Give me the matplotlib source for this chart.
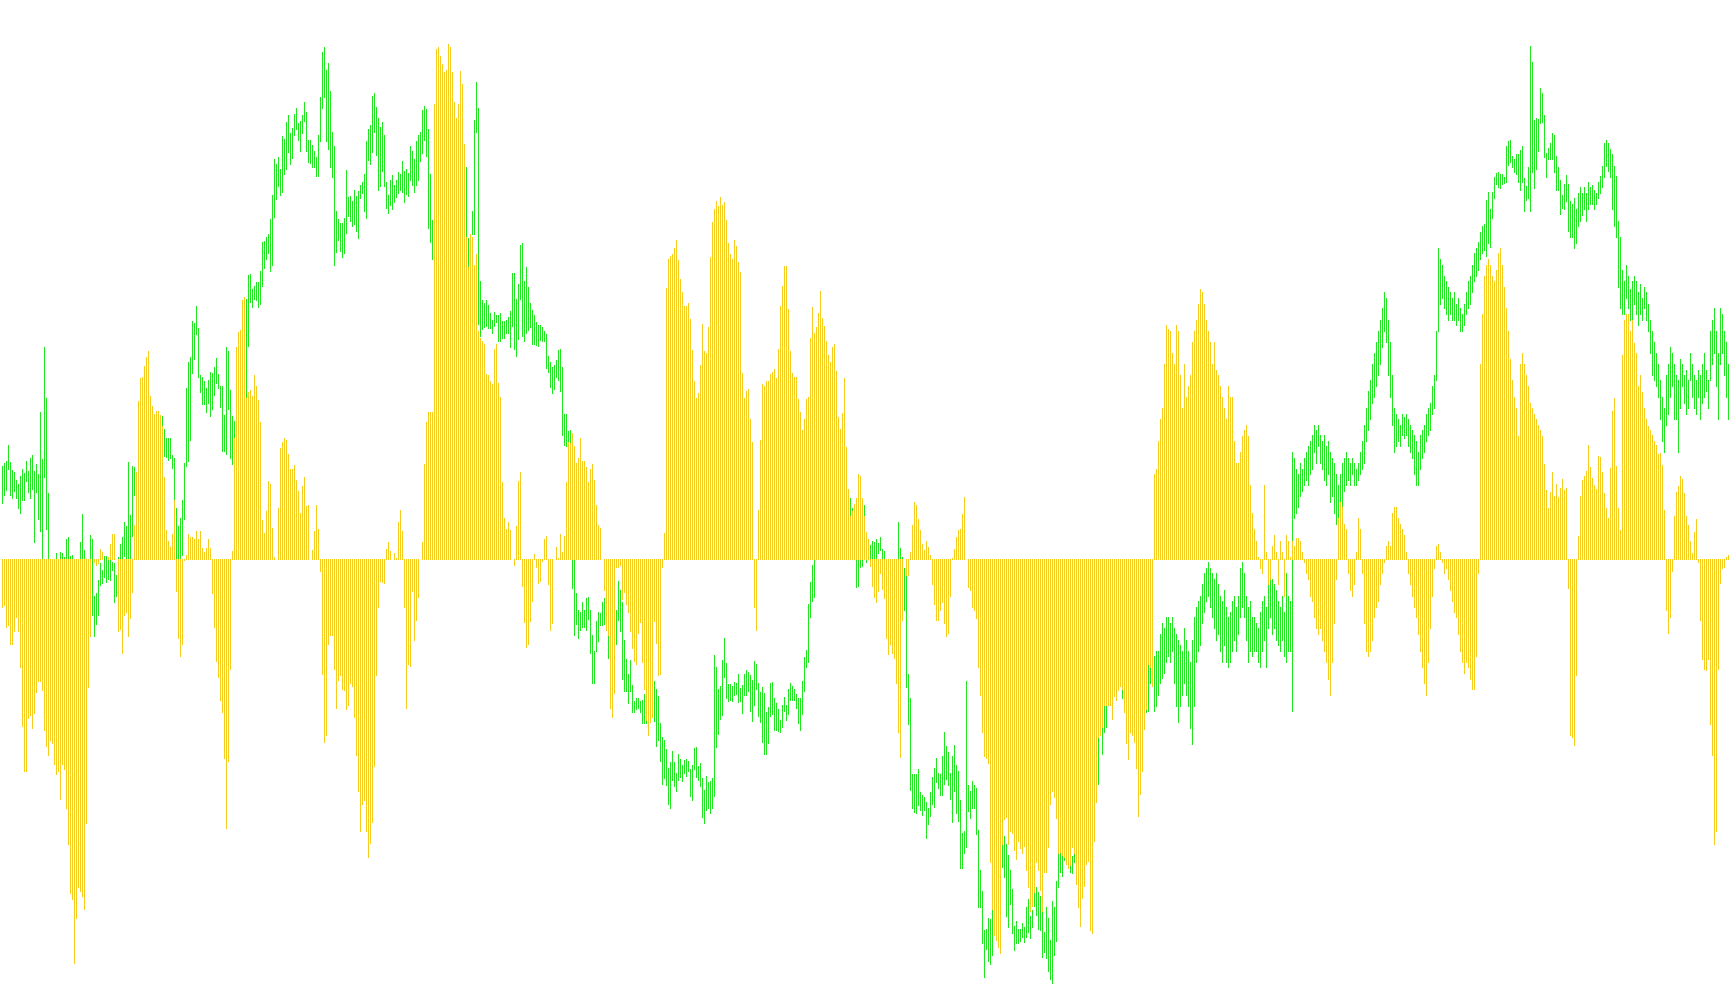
import numpy as np
import matplotlib.pyplot as plt

# histogram values, one per bar
hist = [
    -77, -75, -110, -107, -138, -138, -117, -93, -117, -175, -270, -342, -342, -257, -252, -273, -249, -215, -197, -197,
    -212, -277, -302, -317, -292, -297, -331, -348, -343, -388, -331, -340, -403, -461, -540, -550, -652, -580, -530, -537,
    -545, -565, -426, -207, -125, 0, -5, -10, -7, 17, 12, 0, 0, 3, 25, 40, 40, 0, -117, -113,
    -152, -90, -85, -125, -95, -53, 55, 140, 255, 292, 295, 312,
    327, 336, 263, 247, 235, 239, 239, 233, 215, 132, 47, 29, 19, 40, 95, -51, -128, -157, -138, -2,
    7, 40, 35, 35, 33, 45, 33, 45, 18, 12, 18, 32, 18, -55, -110, -165, -190, -227, -247, -322,
    -435, -327, -178, 13, 195, 343, 367, 370, 418, 423, 260, 270, 273, 263, 297, 280, 257, 222, 63, 42,
    77, 126, 122, 50, 3, 0, 83, 179, 190, 195, 193, 170,
    145, 145, 152, 128, 110, 75, 118, 132, 85, 87, 0, 15, 45, 87, 48, -20, -185, -295, -285, -138,
    -123, -123, -177, -240, -195, -188, -210, -212, -243, -235, -200, -205, -255, -317, -375, -440, -395, -390, -440, -482,
    -458, -425, -335, -188, -78, -36, -37, -38, 16, 27, 13, 0, 10, 2, 60, 79, 45, -77, -240, -170,
    -172, -52, -130, -98, -62, 0, 28, 153, 222, 237, 237, 237,
    735, 825, 827, 813, 800, 787, 790, 832, 828, 787, 738, 713, 735, 789, 768, 670, 520, 472, 525, 520,
    475, 493, 368, 358, 352, 347, 299, 297, 288, 283, 339, 347, 285, 262, 124, 66, 49, 60, 47, 0,
    -10, 53, 126, 141, -43, -102, -142, -138, -100, -67, 8, -12, -38, -35, -3, 32, 37, -40, -115, -103,
    0, 19, 2, 40, 12, 37, 124, 190, 187, 204, 183, 155,
    163, 195, 158, 158, 149, 125, 145, 153, 128, 88, 55, 50, 0, -50, -115, -123, -240, -255, -217, -13,
    -13, -10, -65, -53, -72, -85, -117, -143, -165, -170, -120, -102, -167, -210, -260, -285, -263, -255, -100, -135,
    -187, -185, -13, 42, 438, 485, 490, 493, 503, 515, 483, 453, 431, 409, 409, 414, 388, 338, 288, 260,
    268, 314, 380, 336, 333, 375, 488, 545, 565, 579, 570, 585,
    572, 577, 548, 511, 493, 485, 516, 506, 480, 464, 301, 260, 271, 275, 226, 189, -78, -115, 79, 192,
    283, 280, 288, 288, 299, 302, 307, 292, 339, 409, 442, 474, 474, 404, 336, 301, 294, 294, 259, 237,
    208, 227, 259, 262, 357, 407, 365, 375, 397, 433, 389, 377, 352, 330, 318, 343, 347, 304, 229, 210,
    236, 292, 181, 113, 70, 77, 89, 98, 137, 135, 98, 70,
    43, 33, -11, -43, -62, -70, -52, -23, -48, -63, -128, -153, -138, -151, -160, -200, -280, -320, -98, 0,
    -25, -25, 12, 55, 92, 88, 65, 47, 25, 15, 29, 20, 7, -40, -73, -98, -98, -82, -70, -103,
    -125, -120, -60, 2, 17, 35, 47, 49, 73, 100, 0, -45, -50, -78, -83, -95, -175, -220, -280, -318,
    -322, -330, -490, -565, -607, -615, -627, -637, -460, -420, -417, -460,
    -440, -442, -470, -485, -455, -467, -475, -463, -502, -530, -568, -560, -538, -490, -503, -535, -568, -505, -505, -465,
    -395, -375, -385, -418, -475, -473, -478, -482, -492, -500, -495, -465, -475, -525, -562, -593, -547, -528, -493, -488,
    -600, -605, -455, -393, -288, -285, -272, -235, -235, -235, -235, -258, -222, -228, -212, -205, -210, -247, -298, -323,
    -280, -285, -295, -338, -415, -380, -342, -275, -243, -170, -175, -205,
    137, 146, 191, 226, 244, 315, 378, 372, 369, 333, 315, 378, 369, 298, 244, 315, 262, 280, 298, 351,
    369, 387, 413, 437, 431, 413, 387, 369, 351, 315, 351, 306, 298, 280, 262, 244, 226, 280, 262, 262,
    191, 155, 155, 173, 199, 208, 217, 199, 119, 75, 48, 30, 4, -14, -23, 119, 12, -41, -32, 21,
    39, 12, -41, 30, 12, -59, 39, 30, 4, 30, 21, 34, 34, 30, 12, -5, -23, -32, -59, -68,
    -94, -112, -121, -112, -130, -148, -166, -193, -219, -166, -103, -32, 66, 93, 84, 57, 48, -23, -50, -59,
    -41, 12, 66, 48, -23, -103, -148, -157, -148, -130, -94, -77, -68, -41, -23, -5, 21, 30, 21, 75,
    84, 84, 66, 57, 48, 39, 12, -23, -41, -59, -77, -94, -121, -148, -175, -201, -219, -166, -112, -59,
    -14, 21, 25, 12, -5, -23, -14, -32, -50, -68, -86, -94, -121, -148, -166, -184, -166, -175, -193, -210,
    -210, -157, -23, 315, 396, 458, 476, 485, 476, 458, 449, 467, 494, 503, 476, 440, 405, 369, 324, 289,
    262, 244, 199, 315, 333, 315, 298, 280, 253, 244, 235, 226, 217, 208, 199, 154, 112, 82, 108, 141,
    102, 122, 101, 115, 130, 112, 115, -47, -285, -288, -301, -188, 38, 102, 128, 134, 143, 185, 149, 131,
    120, 114, 167, 165, 141, 107, 83, 67, 148, 240, 260, 151, 83, 47, 330, 387, 396, 396, 369, 387,
    350, 333, 280, 298, 270, 244, 226, 215, 208, 200, 191, 185, 170, 172, 152, 80, -83, -120, -93, -20,
    70, 109, 118, 135, 130, 107, 70, 55, 30, 10, 44, 64, -4, -99, -162, -178, -180, -162, -266, -317,
    -460, -440, -178, -38, -14, -12, 3, 7, 30,
]

# price bar highs and lows, same units
price_high = [
    150, 155, 158, 184, 157, 144, 141, 128, 122, 134, 145, 139, 158, 143, 164, 168, 143, 154, 137, 238,
    161, 343, 260, 107, -5, -5, -5, 10, -5, 12, 10, 3, 32, 35, 5, 6, -5, -5, -5, 27,
    73, 14, -5, -10, 39, 32, -60, -55, -33, -7, -18, 5, 5, -2, -2, -5, -7, -25, 3, 25,
    35, 60, 53, 157, 72, 150, 149, 120, 150, 200, 220, 240,
    280, 290, 250, 240, 230, 235, 230, 225, 231, 210, 195, 195, 195, 169, 163, 83, 53, 66, 95, 155,
    277, 318, 326, 385, 381, 409, 373, 297, 295, 288, 277, 289, 302, 300, 310, 325, 299, 280, 280, 233,
    343, 337, 273, 231, 223, 330, 350, 360, 400, 410, 420, 459, 460, 437, 441, 447, 447, 465, 512, 514,
    520, 525, 550, 588, 647, 638, 650, 630, 683, 679, 706, 718,
    688, 697, 720, 729, 705, 708, 718, 739, 723, 677, 677, 669, 659, 650, 685, 747, 819, 828, 790, 802,
    757, 690, 668, 562, 550, 543, 543, 551, 629, 585, 587, 578, 596, 587, 595, 605, 609, 622, 676, 695,
    702, 748, 754, 730, 713, 698, 706, 685, 609, 588, 612, 621, 604, 613, 625, 622, 643, 627, 630, 624,
    667, 659, 647, 675, 685, 690, 725, 732, 728, 695, 622, 548,
    560, 580, 600, 620, 610, 620, 640, 650, 660, 640, 620, 600, 610, 630, 640, 630, 634, 519, 520, 562,
    710, 771, 729, 449, 419, 414, 419, 410, 398, 387, 399, 394, 395, 398, 385, 385, 386, 391, 401, 462,
    462, 420, 444, 507, 511, 450, 472, 440, 414, 402, 394, 383, 379, 378, 375, 368, 363, 328, 318, 310,
    314, 322, 338, 339, 310, 234, 234, 207, 208, 15, 20, -55,
    -83, -85, -70, -83, -63, -62, -83, -123, -148, -100, -86, -87, -70, -63, -93, -120, -150, -150, -120, -82,
    -35, -50, -70, -130, -162, -185, -163, -203, -230, -225, -225, -230, -228, -218, -243, -240, -220, -200, -197, -210,
    -222, -265, -288, -293, -307, -337, -328, -310, -328, -345, -315, -323, -332, -325, -323, -327, -340, -332, -305, -303,
    -335, -330, -353, -373, -350, -360, -358, -353, -155, -175, -210, -205,
    -163, -128, -168, -202, -202, -205, -198, -201, -186, -208, -203, -185, -180, -182, -187, -195, -165, -170, -201, -214,
    -207, -217, -247, -239, -201, -198, -225, -233, -243, -260, -235, -223, -235, -210, -200, -205, -210, -218, -225, -225,
    -197, -158, -147, -73, -37, -10, 10, 40, 50, 60, 55, 60, 70, 65, 70, 80, 75, 85, 90, 85,
    95, 100, 100, 100, 98, 82, 80, 40, 30, 30, 60, 88,
    35, 17, 22, 30, 28, 32, 26, 35, 17, 13, 0, -5, -5, -5, -5, -5, 60, 18, 3, -15,
    -27, -185, -225, -348, -348, -347, -340, -377, -382, -385, -393, -402, -377, -352, -338, -322, -345, -348, -318, -280,
    -302, -312, -345, -318, -300, -332, -342, -390, -443, -440, -197, -365, -375, -358, -365, -370, -438, -502, -537, -600,
    -597, -580, -582, -565, -540, -520, -500, -480, -460, -447, -460, -478,
    -503, -533, -593, -585, -597, -597, -588, -595, -562, -550, -577, -567, -538, -530, -538, -545, -568, -603, -563, -580,
    -615, -553, -563, -521, -460, -475, -478, -480, -450, -440, -495, -480, -475, -440, -450, -460, -430, -400, -380, -370,
    -380, -360, -330, -300, -288, -250, -272, -235, -235, -200, -190, -180, -170, -170, -160, -160, -210, -170, -160, -150,
    -140, -150, -160, -170, -180, -180, -200, -190, -200, -170, -175, -150,
    -157, -148, -148, -121, -103, -112, -94, -94, -103, -94, -112, -121, -130, -139, -148, -112, -130, -148, -166, -130,
    -94, -77, -68, -59, -41, -23, -14, -5, -14, -23, -32, -23, -41, -59, -68, -50, -77, -94, -86, -68,
    -59, -77, -59, -14, -5, -23, -59, -77, -68, -94, -94, -103, -112, -86, -68, -59, -77, -41, -23, -32,
    -41, -50, -68, -77, -59, -86, -23, -59, -68, 173, 164, 146, 137, 155, 146, 164, 173, 182, 191, 200,
    217, 208, 217, 200, 191, 200, 182, 191, 173, 164, 155, 137, 119, 137, 155, 164, 173, 164, 155, 164,
    155, 146, 155, 173, 191, 217, 244, 271, 289, 315, 333, 351, 369, 387, 405, 431, 422, 387, 351, 298,
    244, 235, 226, 217, 235, 230, 235, 226, 217, 208, 200, 191, 173, 200, 208, 217, 235, 244, 253, 280,
    298, 369, 503, 485, 476, 458, 449, 440, 431, 422, 431, 413, 422, 405, 396, 413, 431, 449, 458, 476,
    494, 503, 512, 529, 538, 542, 580, 594, 566, 594, 618, 624, 626, 623, 623, 618, 668, 675, 678, 651,
    647, 655, 655, 661, 668, 616, 603, 634, 829, 803, 710, 713, 711, 761, 753, 718, 657, 665, 673, 689,
    686, 651, 634, 613, 589, 606, 621, 606, 579, 574, 583, 565, 592, 601, 592, 601, 592, 609, 601, 604,
    597, 592, 609, 619, 636, 672, 677, 672, 663, 654, 636, 619, 547, 520, 467, 449, 476, 458, 437, 449,
    458, 449, 431, 444, 422, 440, 431, 413, 387, 369, 351, 333, 315, 289, 262, 244, 298, 315, 342, 333,
    315, 298, 289, 324, 315, 298, 306, 289, 333, 315, 298, 289, 306, 298, 315, 333, 306, 289, 369, 387,
    405, 369, 333, 405, 396, 369, 351, 315, 298,
]

price_low = [
    90, 103, 112, 145, 103, 98, 110, 98, 82, 74, 95, 95, 127, 109, 98, 114, 27, 109, 64, 45,
    -15, 133, 48, -15, -60, -50, -45, -40, -50, -40, -40, -45, -30, -25, -40, -40, -60, -60, -50, -30,
    -20, -30, -50, -60, -30, -91, -125, -105, -91, -42, -38, -29, -37, -32, -34, -18, -70, -60, -40, -30,
    -30, 5, -20, -20, -20, 37, 103, 60, 90, 130, 150, 170,
    220, 230, 200, 190, 180, 180, 180, 175, 180, 167, 165, 160, 163, 147, 97, -15, -15, -15, 7, 65,
    150, 158, 193, 300, 323, 363, 295, 270, 250, 250, 238, 252, 232, 243, 265, 285, 277, 245, 175, 175,
    170, 243, 163, 153, 195, 270, 290, 300, 330, 340, 260, 344, 415, 408, 421, 418, 407, 413, 441, 470,
    485, 495, 465, 475, 553, 582, 603, 588, 593, 623, 630, 658,
    638, 648, 685, 695, 677, 659, 688, 708, 659, 642, 640, 633, 633, 619, 619, 675, 729, 747, 675, 663,
    633, 617, 475, 497, 515, 498, 488, 495, 527, 555, 547, 538, 541, 531, 519, 583, 591, 562, 552, 645,
    638, 658, 690, 653, 597, 603, 627, 603, 567, 559, 572, 565, 577, 585, 591, 597, 593, 577, 590, 587,
    613, 605, 594, 605, 612, 643, 657, 677, 652, 535, 512, 485,
    500, 520, 540, 560, 550, 560, 580, 590, 600, 580, 560, 540, 550, 570, 580, 570, 520, 472, 480, 525,
    525, 690, 380, 360, 372, 375, 377, 374, 373, 365, 377, 383, 352, 352, 358, 358, 365, 365, 342, 377,
    340, 329, 355, 420, 360, 353, 365, 370, 375, 348, 348, 346, 344, 354, 352, 353, 309, 303, 278, 268,
    275, 295, 290, 272, 200, 185, 182, 185, 179, -47, -123, -105,
    -127, -115, -110, -110, -115, -97, -152, -201, -201, -149, -133, -107, -107, -105, -115, -160, -220, -230, -200, -138,
    -98, -117, -193, -213, -213, -233, -213, -247, -247, -242, -240, -247, -265, -265, -265, -275, -255, -250, -262, -302,
    -293, -327, -363, -353, -365, -395, -403, -357, -367, -375, -357, -352, -358, -345, -350, -342, -383, -390, -340, -352,
    -357, -367, -417, -427, -405, -403, -410, -403, -383, -303, -282, -258,
    -252, -190, -225, -230, -227, -230, -220, -218, -231, -230, -248, -220, -220, -213, -245, -261, -235, -210, -253, -263,
    -295, -315, -315, -297, -253, -250, -277, -277, -278, -280, -272, -246, -260, -250, -227, -227, -227, -240, -265, -277,
    -250, -213, -175, -167, -93, -67, -62, 5, 10, 15, 10, 20, 25, 20, 30, 35, 30, 40, 45, 40,
    50, 55, 50, 60, 60, 50, 40, -45, -43, -13, -11, 60,
    -5, 3, -10, -20, -30, -30, 10, 15, -20, -20, -60, -70, -70, -60, -70, -80, -100, -110, -80, -83,
    -207, -267, -373, -403, -408, -410, -397, -405, -413, -405, -450, -428, -415, -395, -400, -360, -370, -382, -382, -363,
    -355, -365, -387, -425, -375, -410, -423, -500, -500, -475, -465, -407, -418, -403, -403, -445, -563, -563, -620, -675,
    -630, -650, -655, -640, -600, -600, -610, -620, -498, -513, -577, -595,
    -557, -605, -632, -620, -620, -617, -610, -618, -610, -603, -612, -595, -560, -575, -597, -600, -643, -635, -645, -665,
    -678, -685, -640, -617, -530, -505, -512, -487, -490, -495, -505, -507, -490, -510, -520, -540, -520, -500, -470, -460,
    -500, -460, -420, -380, -363, -280, -315, -280, -272, -230, -230, -250, -215, -220, -205, -200, -225, -240, -250, -240,
    -230, -240, -250, -260, -280, -290, -300, -260, -247, -245, -200, -200,
    -246, -237, -219, -201, -192, -184, -166, -157, -166, -148, -201, -237, -264, -237, -219, -201, -219, -237, -273, -299,
    -237, -166, -148, -139, -103, -86, -68, -59, -77, -94, -112, -130, -121, -148, -166, -139, -166, -175, -166, -148,
    -130, -148, -121, -94, -77, -94, -130, -166, -148, -157, -148, -148, -166, -175, -148, -130, -175, -112, -94, -121,
    -112, -130, -139, -148, -130, -157, -166, -148, -148, -246, 66, 75, 84, 102, 110, 119, 128, 119, 137, 146,
    173, 155, 182, 155, 146, 128, 119, 137, 93, 102, 75, 57, 57, 66, 84, 110, 119, 128, 119, 137,
    119, 119, 128, 137, 146, 155, 191, 208, 226, 253, 262, 280, 298, 315, 342, 369, 351, 298, 262, 217,
    173, 182, 191, 182, 200, 195, 200, 182, 173, 164, 137, 119, 119, 146, 164, 173, 191, 200, 208, 235,
    244, 289, 369, 413, 422, 405, 396, 387, 396, 387, 387, 378, 387, 369, 369, 378, 396, 405, 413, 431,
    449, 458, 467, 485, 494, 500, 490, 510, 505, 552, 583, 606, 601, 599, 606, 607, 609, 637, 641, 634,
    626, 622, 609, 596, 610, 563, 580, 584, 562, 626, 599, 630, 659, 705, 707, 649, 618, 646, 646, 646,
    626, 597, 597, 557, 568, 566, 578, 530, 520, 520, 503, 511, 538, 547, 556, 565, 547, 565, 574, 574,
    565, 574, 583, 592, 601, 618, 636, 627, 618, 565, 538, 520, 440, 405, 396, 396, 422, 405, 387, 387,
    413, 396, 378, 396, 387, 405, 387, 369, 333, 298, 289, 280, 262, 226, 191, 173, 217, 235, 262, 280,
    226, 226, 173, 244, 280, 253, 235, 244, 289, 262, 244, 235, 262, 226, 253, 262, 271, 244, 289, 315,
    333, 280, 226, 315, 333, 298, 262, 226, 191,
]

x = np.arange(len(hist))

fig = plt.figure(figsize=(17.3, 10.05), dpi=100)
ax = fig.add_axes([0, 0, 1, 1])

# price bars underneath, histogram on top
ax.vlines(x, price_low, price_high, color="#22e622", linewidth=0.72, antialiased=False, snap=True)
ax.vlines(x, 0, hist, color="#f6cd1c", linewidth=0.72, antialiased=False, snap=True)

ax.set_xlim(-0.75, len(hist) - 0.75)
ax.set_ylim(-720.6, 903.5)
ax.axis("off")

fig.savefig("out.png", dpi=100)
